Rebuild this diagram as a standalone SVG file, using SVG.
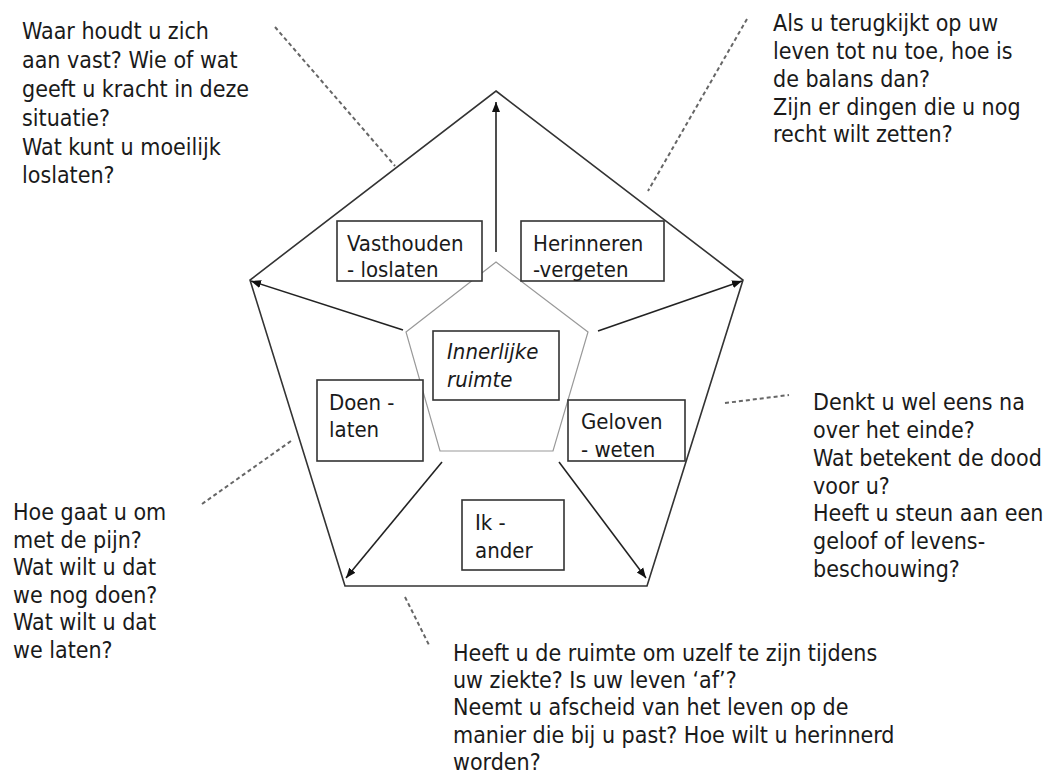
<svg xmlns="http://www.w3.org/2000/svg" width="1047" height="774" viewBox="0 0 1047 774">
<style>
.t{font-family:'DejaVu Sans Condensed','DejaVu Sans',sans-serif;font-stretch:condensed;font-size:23px;fill:#1a1a1a}
.b{font-family:'DejaVu Sans Condensed','DejaVu Sans',sans-serif;font-stretch:condensed;font-size:22px;fill:#1a1a1a}
.box{fill:#fff;stroke:#333;stroke-width:1.6}
.arr{stroke:#222;stroke-width:1.6;fill:none;marker-end:url(#ah)}
.dash{stroke:#666;stroke-width:2;stroke-dasharray:4 3;fill:none}
</style>
<defs>
<marker id="ah" viewBox="0 0 10 10" refX="10" refY="5" markerWidth="10" markerHeight="10" markerUnits="userSpaceOnUse" orient="auto">
<path d="M0,1 L10,5 L0,9 Z" fill="#111"/>
</marker>
</defs>
<rect width="1047" height="774" fill="#fff"/>
<g id="outer-pentagon">
<polygon points="496,91 743,280 647,586 345,586 250,280" fill="none" stroke="#333" stroke-width="1.6"/>
</g>
<g id="inner-pentagon">
<polygon points="496,262 588,332 553,451 440,451 406,332" fill="none" stroke="#999" stroke-width="1.2"/>
</g>
<g id="connectors">
<line class="arr" x1="496" y1="252" x2="496" y2="102"/>
<line class="arr" x1="403" y1="330" x2="251" y2="281"/>
<line class="arr" x1="598" y1="331" x2="742" y2="281"/>
<line class="arr" x1="442" y1="462" x2="346" y2="578"/>
<line class="arr" x1="559" y1="462" x2="646" y2="578"/>
<line class="dash" x1="275" y1="27" x2="395" y2="166"/>
<line class="dash" x1="747" y1="19" x2="648" y2="191"/>
<line class="dash" x1="725" y1="403" x2="789" y2="395"/>
<line class="dash" x1="202" y1="504" x2="291" y2="441"/>
<line class="dash" x1="405" y1="597" x2="429" y2="645"/>
</g>
<g id="node-vasthouden">
<rect class="box" x="337" y="221" width="145" height="60"/>
<text class="b" x="347" y="251">Vasthouden</text>
<text class="b" x="347" y="277">- loslaten</text>
</g>
<g id="node-herinneren">
<rect class="box" x="521" y="221" width="143" height="60"/>
<text class="b" x="533" y="251">Herinneren</text>
<text class="b" x="533" y="277">-vergeten</text>
</g>
<g id="node-innerlijke">
<rect class="box" x="433" y="331" width="126" height="69"/>
<text class="b" x="447" y="359" font-style="italic">Innerlijke</text>
<text class="b" x="447" y="387" font-style="italic">ruimte</text>
</g>
<g id="node-doen">
<rect class="box" x="317" y="380" width="106" height="81"/>
<text class="b" x="329" y="410">Doen -</text>
<text class="b" x="329" y="437">laten</text>
</g>
<g id="node-geloven">
<rect class="box" x="568" y="400" width="117" height="61"/>
<text class="b" x="581" y="429">Geloven</text>
<text class="b" x="581" y="457">- weten</text>
</g>
<g id="node-ik">
<rect class="box" x="462" y="500" width="102" height="70"/>
<text class="b" x="475" y="530">Ik -</text>
<text class="b" x="475" y="558">ander</text>
</g>
<g id="text-topleft">
<text class="t" x="22" y="39">Waar houdt u zich</text>
<text class="t" x="22" y="68">aan vast? Wie of wat</text>
<text class="t" x="22" y="97">geeft u kracht in deze</text>
<text class="t" x="22" y="126">situatie?</text>
<text class="t" x="22" y="155">Wat kunt u moeilijk</text>
<text class="t" x="22" y="183">loslaten?</text>
</g>
<g id="text-topright">
<text class="t" x="773" y="31">Als u terugkijkt op uw</text>
<text class="t" x="773" y="59">leven tot nu toe, hoe is</text>
<text class="t" x="773" y="87">de balans dan?</text>
<text class="t" x="773" y="115">Zijn er dingen die u nog</text>
<text class="t" x="773" y="142">recht wilt zetten?</text>
</g>
<g id="text-right">
<text class="t" x="813" y="410">Denkt u wel eens na</text>
<text class="t" x="813" y="438">over het einde?</text>
<text class="t" x="813" y="466">Wat betekent de dood</text>
<text class="t" x="813" y="494">voor u?</text>
<text class="t" x="813" y="521">Heeft u steun aan een</text>
<text class="t" x="813" y="549">geloof of levens-</text>
<text class="t" x="813" y="577">beschouwing?</text>
</g>
<g id="text-bottomleft">
<text class="t" x="13" y="520">Hoe gaat u om</text>
<text class="t" x="13" y="548">met de pijn?</text>
<text class="t" x="13" y="575">Wat wilt u dat</text>
<text class="t" x="13" y="603">we nog doen?</text>
<text class="t" x="13" y="630">Wat wilt u dat</text>
<text class="t" x="13" y="658">we laten?</text>
</g>
<g id="text-bottom">
<text class="t" x="453" y="661">Heeft u de ruimte om uzelf te zijn tijdens</text>
<text class="t" x="453" y="688">uw ziekte? Is uw leven ‘af’?</text>
<text class="t" x="453" y="715">Neemt u afscheid van het leven op de</text>
<text class="t" x="453" y="743">manier die bij u past? Hoe wilt u herinnerd</text>
<text class="t" x="453" y="770">worden?</text>
</g>
</svg>
